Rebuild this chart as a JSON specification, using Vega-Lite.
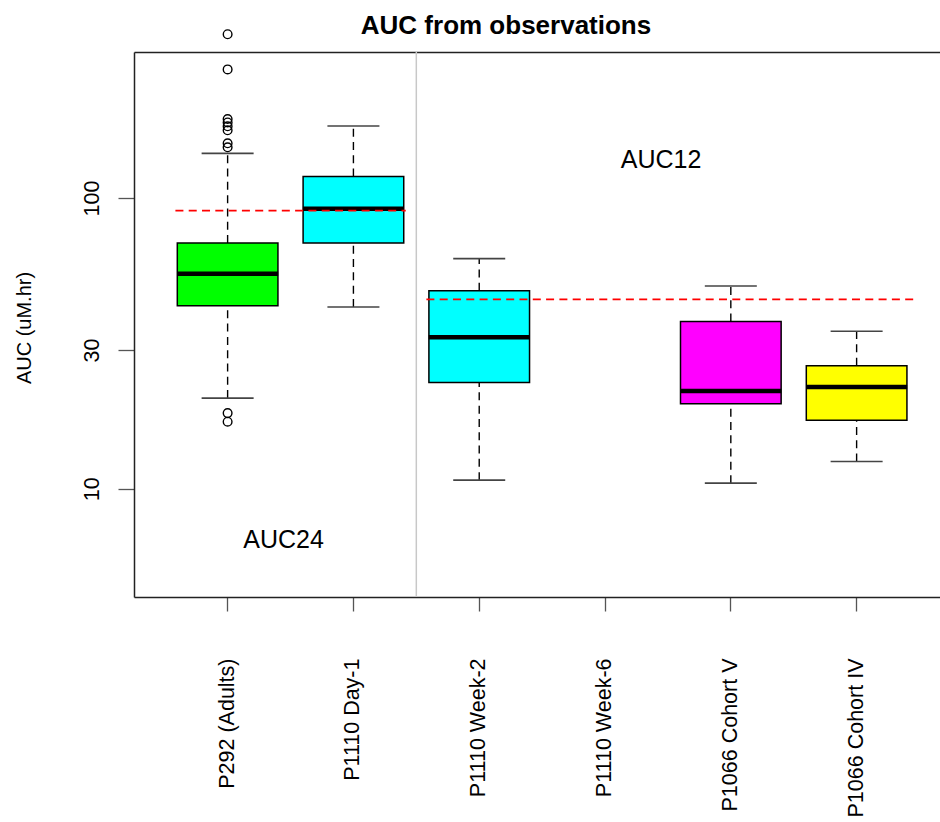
{
  "$schema": "https://vega.github.io/schema/vega-lite/v6.json",
  "width": 806,
  "height": 545,
  "autosize": {"type": "none"},
  "padding": {"left": 134, "top": 52, "right": 0, "bottom": 225},
  "background": "white",
  "title": {"text": "AUC from observations", "font": "Liberation Sans", "fontSize": 26, "fontWeight": "bold", "color": "black", "baseline": "alphabetic", "offset": -33.3, "dx": -31, "frame": "group"},
  "config": {
    "view": {"stroke": null},
    "font": "Liberation Sans",
    "axis": {"labelFont": "Liberation Sans", "titleFont": "Liberation Sans", "labelColor": "black", "titleColor": "black", "grid": false, "domainColor": "#222222", "domainWidth": 1.5, "tickColor": "#555555", "tickWidth": 1.3}
  },
  "datasets": {
    "boxes": [
      {"group": "P292 (Adults)", "lower": 20.5, "q1": 42.6, "median": 54.9, "q3": 70.0, "upper": 142.5},
      {"group": "P1110 Day-1", "lower": 42.2, "q1": 70.0, "median": 91.9, "q3": 118.5, "upper": 176.9},
      {"group": "P1110 Week-2", "lower": 10.7, "q1": 23.2, "median": 33.2, "q3": 48.0, "upper": 61.9},
      {"group": "P1066 Cohort V", "lower": 10.45, "q1": 19.6, "median": 21.7, "q3": 37.6, "upper": 49.8},
      {"group": "P1066 Cohort IV", "lower": 12.4, "q1": 17.2, "median": 22.4, "q3": 26.5, "upper": 34.8}
    ],
    "outliers": [
      {"group": "P292 (Adults)", "value": 366},
      {"group": "P292 (Adults)", "value": 277},
      {"group": "P292 (Adults)", "value": 187},
      {"group": "P292 (Adults)", "value": 182},
      {"group": "P292 (Adults)", "value": 176.5},
      {"group": "P292 (Adults)", "value": 171},
      {"group": "P292 (Adults)", "value": 154.3},
      {"group": "P292 (Adults)", "value": 149.5},
      {"group": "P292 (Adults)", "value": 18.2},
      {"group": "P292 (Adults)", "value": 17.0}
    ],
    "refs": [
      {"ref": "AUC24", "from": "P292 (Adults)", "to": "P1110 Day-1", "value": 90.5},
      {"ref": "AUC12", "from": "P1110 Week-2", "to": "P1066 Cohort IV", "value": 44.8}
    ],
    "notes": [
      {"text": "AUC24", "group": "P292 (Adults)", "value": 6.64},
      {"text": "AUC12", "group": "P1110 Week-6", "value": 134.8}
    ],
    "split": [{"group": "P1110 Day-1"}]
  },
  "resolve": {"axis": {"x": "independent"}},
  "layer": [
    {
      "data": {"name": "boxes"},
      "mark": {"type": "rule", "strokeDash": [8, 5.3], "strokeWidth": 1.4, "color": "black", "opacity": 1},
      "encoding": {
        "x": {"field": "group", "type": "nominal",
          "scale": {"domain": ["P292 (Adults)", "P1110 Day-1", "P1110 Week-2", "P1110 Week-6", "P1066 Cohort V", "P1066 Cohort IV"], "paddingInner": 0, "paddingOuter": 0.2035, "align": 0.6},
          "axis": {"orient": "bottom", "title": null, "labelAngle": 270, "labelAlign": "right", "labelBaseline": "middle", "labelFontSize": 21.5, "tickSize": 14, "labelPadding": 47, "labelLimit": 300}},
        "y": {"field": "q3", "type": "quantitative",
          "scale": {"type": "log", "domain": [4.24, 318], "nice": false},
          "axis": {"values": [10, 30, 100], "title": "AUC (uM.hr)", "titleFontSize": 20, "titleFontWeight": "normal", "titleAngle": 270, "titleX": -110, "titleY": 275.5, "titleAlign": "center", "titleBaseline": "middle", "labelAngle": 270, "labelAlign": "center", "labelBaseline": "middle", "labelFontSize": 21.5, "tickSize": 16, "labelPadding": 26}},
        "y2": {"field": "upper"}
      }
    },
    {
      "data": {"name": "boxes"},
      "mark": {"type": "rule", "strokeDash": [8, 5.3], "strokeWidth": 1.4, "color": "black", "opacity": 1},
      "encoding": {
        "x": {"field": "group", "type": "nominal", "axis": null},
        "y": {"field": "lower", "type": "quantitative"},
        "y2": {"field": "q1"}
      }
    },
    {
      "data": {"name": "boxes"},
      "mark": {"type": "tick", "size": 52, "thickness": 1.6, "color": "#444444", "opacity": 1},
      "encoding": {
        "x": {"field": "group", "type": "nominal", "axis": null},
        "y": {"field": "upper", "type": "quantitative"}
      }
    },
    {
      "data": {"name": "boxes"},
      "mark": {"type": "tick", "size": 52, "thickness": 1.6, "color": "#444444", "opacity": 1},
      "encoding": {
        "x": {"field": "group", "type": "nominal", "axis": null},
        "y": {"field": "lower", "type": "quantitative"}
      }
    },
    {
      "data": {"name": "boxes"},
      "mark": {"type": "bar", "width": {"band": 0.8}, "stroke": "black", "strokeWidth": 1.5, "opacity": 1},
      "encoding": {
        "x": {"field": "group", "type": "nominal", "axis": null},
        "y": {"field": "q1", "type": "quantitative"},
        "y2": {"field": "q3"},
        "fill": {"field": "group", "type": "nominal", "legend": null,
          "scale": {"domain": ["P292 (Adults)", "P1110 Day-1", "P1110 Week-2", "P1110 Week-6", "P1066 Cohort V", "P1066 Cohort IV"], "range": ["#00FF00", "#00FFFF", "#00FFFF", "#FFFFFF", "#FF00FF", "#FFFF00"]}}
      }
    },
    {
      "data": {"name": "boxes"},
      "mark": {"type": "tick", "size": 101, "thickness": 4.5, "color": "black", "opacity": 1},
      "encoding": {
        "x": {"field": "group", "type": "nominal", "axis": null},
        "y": {"field": "median", "type": "quantitative"}
      }
    },
    {
      "data": {"name": "outliers"},
      "mark": {"type": "point", "shape": "circle", "filled": false, "size": 75, "stroke": "black", "strokeWidth": 1.4, "opacity": 1},
      "encoding": {
        "x": {"field": "group", "type": "nominal", "axis": null},
        "y": {"field": "value", "type": "quantitative"}
      }
    },
    {
      "data": {"name": "refs"},
      "transform": [{"filter": "datum.ref === 'AUC24'"}],
      "mark": {"type": "rule", "color": "#FF0000", "strokeDash": [8, 5.3], "strokeWidth": 1.7, "opacity": 1},
      "encoding": {
        "x": {"field": "from", "type": "nominal", "bandPosition": 0.085, "axis": null},
        "x2": {"field": "to", "bandPosition": 0.916},
        "y": {"field": "value", "type": "quantitative"}
      }
    },
    {
      "data": {"name": "refs"},
      "transform": [{"filter": "datum.ref === 'AUC12'"}],
      "mark": {"type": "rule", "color": "#FF0000", "strokeDash": [8, 5.3], "strokeWidth": 1.7, "opacity": 1},
      "encoding": {
        "x": {"field": "from", "type": "nominal", "bandPosition": 0.08, "axis": null},
        "x2": {"field": "to", "bandPosition": 0.975},
        "y": {"field": "value", "type": "quantitative"}
      }
    },
    {
      "data": {"name": "notes"},
      "mark": {"type": "text", "font": "Liberation Sans", "fontSize": 25, "color": "black", "align": "center", "baseline": "middle"},
      "encoding": {
        "x": {"field": "group", "type": "nominal", "bandPosition": 0.945, "axis": null},
        "y": {"field": "value", "type": "quantitative"},
        "text": {"field": "text"}
      }
    },
    {
      "data": {"name": "split"},
      "mark": {"type": "rule", "color": "#C8C8C8", "strokeWidth": 1.5},
      "encoding": {
        "x": {"field": "group", "type": "nominal", "bandPosition": 1,
          "axis": {"orient": "top", "title": null, "labels": false, "ticks": false, "domain": true}}
      }
    }
  ]
}
